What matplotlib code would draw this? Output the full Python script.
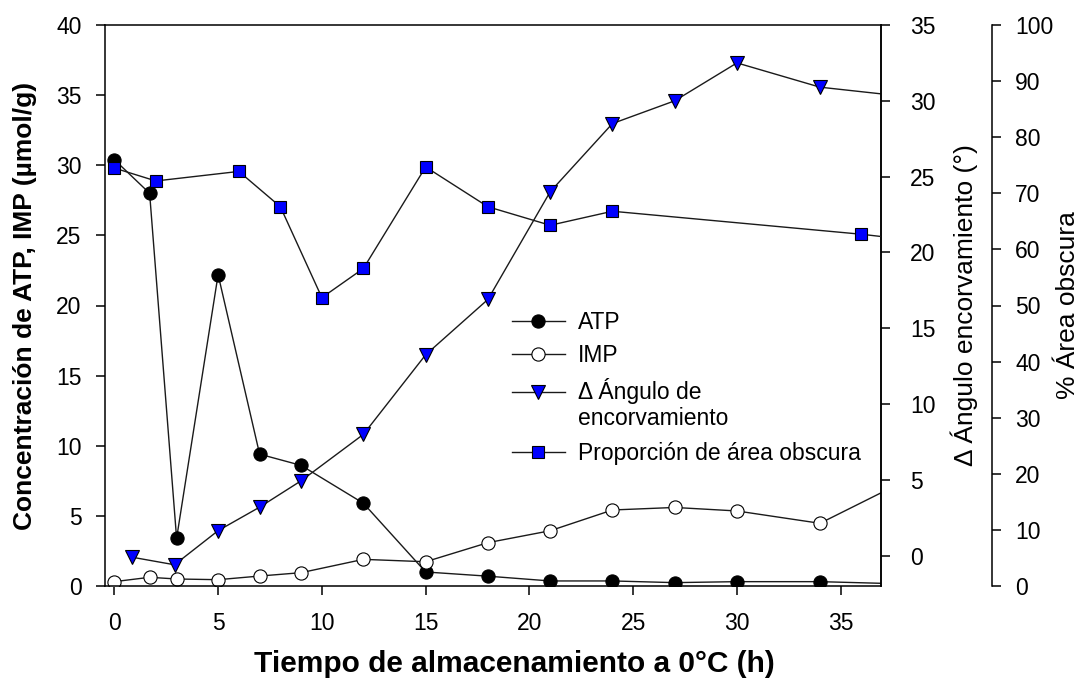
import numpy as np
import matplotlib
matplotlib.use("Agg")
import matplotlib.pyplot as plt

plt.rcParams['font.family'] = ['Liberation Sans', 'DejaVu Sans']

# ATP and IMP (umol/g), left axis
t_nuc = [0, 1.7, 3, 5, 7, 9, 12, 15, 18, 21, 24, 27, 30, 34, 40]
atp = [30.4, 28.0, 3.4, 22.2, 9.4, 8.6, 5.9, 1.0, 0.7, 0.36, 0.36, 0.24, 0.31, 0.31, 0.07]
imp = [0.31, 0.62, 0.5, 0.45, 0.71, 0.95, 1.9, 1.73, 3.09, 3.94, 5.42, 5.6, 5.35, 4.47, 8.9]

# delta angulo de encorvamiento (grados)
t_ang = [0.85, 2.9, 5, 7, 9, 12, 15, 18, 21, 24, 27, 30, 34, 40]
angulo = [-0.1, -0.6, 1.65, 3.2, 4.94, 8.0, 13.25, 16.9, 24.0, 28.5, 30.0, 32.5, 30.9, 30.0]

# proporcion de area obscura (%)
t_area = [0, 2, 6, 8, 10, 12, 15, 18, 21, 24, 36, 40]
area = [74.5, 72.2, 73.9, 67.6, 51.4, 56.6, 74.7, 67.6, 64.3, 66.8, 62.7, 61.0]

blue = '#0000ff'
lc = '#1a1a1a'

fig, ax = plt.subplots(figsize=(10.8, 6.84), dpi=100)
fig.subplots_adjust(left=105/1080, right=881/1080, bottom=1-586/684, top=1-25/684)

ax2 = ax.twinx()
ax3 = ax.twinx()

l1, = ax.plot(t_nuc, atp, '-o', color=lc, lw=1, ms=9.5, mfc='black', mec='black', mew=0.8, label='ATP')
l2, = ax.plot(t_nuc, imp, '-o', color=lc, lw=1, ms=9.5, mfc='white', mec='black', mew=0.8, label='IMP')
l3, = ax2.plot(t_ang, angulo, '-v', color=lc, lw=1, ms=10, mfc=blue, mec='black', mew=0.8,
               label='Δ Ángulo de\nencorvamiento')
l4, = ax3.plot(t_area, area, '-s', color=lc, lw=1, ms=9, mfc=blue, mec='black', mew=0.8,
               label='Proporción de área obscura')

ax.set_xlim(-0.45, 36.94)
ax.set_ylim(0, 40)
ax2.set_ylim(-2, 35)
ax3.set_ylim(0, 100)

ax.set_xticks(range(0, 36, 5))
ax.set_yticks(range(0, 41, 5))
ax2.set_yticks(range(0, 36, 5))
ax3.set_yticks(range(0, 101, 10))

for a in (ax, ax2, ax3):
    for s in a.spines.values():
        s.set_linewidth(1.1)
ax3.spines['right'].set_position(('axes', 1.1426))
for s in ('left', 'top', 'bottom'):
    ax3.spines[s].set_visible(False)
    ax2.spines[s].set_visible(False)

ax.tick_params(axis='y', direction='out', length=6.5, width=1.1, labelsize=16.5, pad=10.5)
ax.tick_params(axis='x', direction='out', length=6.5, width=1.1, labelsize=16.5, pad=12.5)
ax2.tick_params(axis='y', direction='out', length=6.5, width=1.1, labelsize=16.5, pad=14.5)
ax3.tick_params(axis='y', direction='out', length=6.5, width=1.1, labelsize=16.5, pad=10.5)

ax.set_ylabel('Concentración de ATP, IMP (µmol/g)', fontsize=19, fontweight='bold')
ax.yaxis.set_label_coords(-0.087, 0.5)
ax.set_xlabel('Tiempo de almacenamiento a 0°C (h)', fontsize=21.5, fontweight='bold')
ax.xaxis.set_label_coords(0.528, -0.114)
ax2.set_ylabel('Δ Ángulo encorvamiento (°)', fontsize=19)
ax2.yaxis.set_label_coords(1.089, 0.5)
ax3.set_ylabel('% Área obscura', fontsize=19)
ax3.yaxis.set_label_coords(1.226, 0.5)

leg_kw = dict(loc='upper left', frameon=False, fontsize=16.5, borderpad=0, borderaxespad=0,
              handlelength=2.3, handletextpad=0.59, labelspacing=0.45)
leg = ax3.legend([l1, l2, l3], [l.get_label() for l in (l1, l2, l3)],
                 bbox_to_anchor=(0.5245, 0.49), **leg_kw)
ax3.add_artist(leg)
leg2 = ax3.legend([l4], [l4.get_label()], bbox_to_anchor=(0.5245, 0.257), **leg_kw)

# put the triangle handle on the first line of its two-line label
col = leg._legend_handle_box.get_children()[0]
da = col.get_children()[2].get_children()[0]
for art in da.get_children():
    art.set_ydata(np.asarray(art.get_ydata(), dtype=float) + 0.55 * 16.5)

plt.savefig('out.png', dpi=100)
